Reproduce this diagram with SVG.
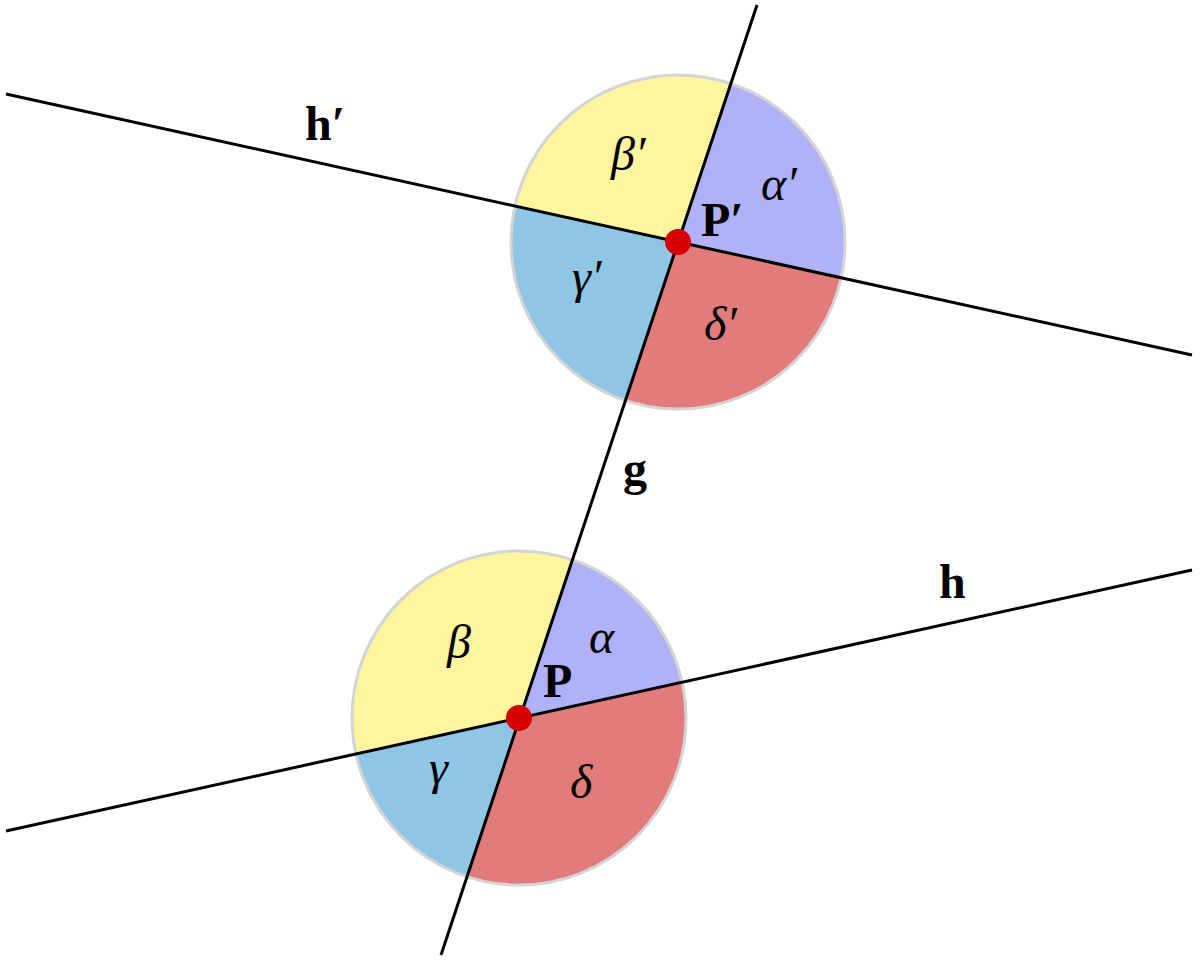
<svg xmlns="http://www.w3.org/2000/svg" width="1200" height="961" viewBox="0 0 1200 961">
<style>
.alpha{fill:#b1b1f8}
.beta{fill:#fef59e}
.gamma{fill:#8fc6e4}
.delta{fill:#e27c7c}
.rim{fill:none;stroke:#d4d4d4;stroke-width:3}
.ln{stroke:#000;stroke-width:3;fill:none}
.dot{fill:#d60000}
.bold{font-family:"Liberation Serif","DejaVu Serif",serif;font-weight:bold;font-size:48px;fill:#000}
.gr{font-family:"Liberation Serif","DejaVu Serif",serif;font-style:italic;font-size:48px;fill:#000}
</style>
<rect width="1200" height="961" fill="#fff"/>
<g id="angles-top">
<path class="alpha" d="M678,242 L730.7,83.5 A167,167 0 0 1 841.1,277.9 Z"/>
<path class="delta" d="M678,242 L841.1,277.9 A167,167 0 0 1 625.3,400.5 Z"/>
<path class="gamma" d="M678,242 L625.3,400.5 A167,167 0 0 1 514.9,206.1 Z"/>
<path class="beta" d="M678,242 L514.9,206.1 A167,167 0 0 1 730.7,83.5 Z"/>
<circle class="rim" cx="678" cy="242" r="167"/>
</g>
<g id="angles-bottom">
<path class="alpha" d="M519,718 L571.7,559.5 A167,167 0 0 1 682.1,682.1 Z"/>
<path class="delta" d="M519,718 L682.1,682.1 A167,167 0 0 1 466.3,876.5 Z"/>
<path class="gamma" d="M519,718 L466.3,876.5 A167,167 0 0 1 355.9,753.9 Z"/>
<path class="beta" d="M519,718 L355.9,753.9 A167,167 0 0 1 571.7,559.5 Z"/>
<circle class="rim" cx="519" cy="718" r="167"/>
</g>
<g id="connectors">
<line id="g" class="ln" x1="757" y1="5" x2="441" y2="955"/>
<line id="h-prime" class="ln" x1="6" y1="94" x2="1192" y2="355"/>
<line id="h" class="ln" x1="6" y1="831" x2="1192" y2="570"/>
</g>
<g id="node-P-prime">
<circle class="dot" cx="678" cy="242" r="13"/>
<text class="bold" x="701" y="236">P′</text>
</g>
<g id="node-P">
<circle class="dot" cx="519" cy="718" r="13"/>
<text class="bold" x="543" y="697">P</text>
</g>
<g id="labels">
<text class="bold" x="305" y="140">h′</text>
<text class="bold" x="623" y="485">g</text>
<text class="bold" x="939" y="598">h</text>
<text class="gr" x="611" y="170">β′</text>
<text class="gr" x="761" y="200">α′</text>
<text class="gr" x="572" y="293">γ′</text>
<text class="gr" x="704" y="340">δ′</text>
<text class="gr" x="447" y="658">β</text>
<text class="gr" x="589" y="653">α</text>
<text class="gr" x="429" y="784">γ</text>
<text class="gr" x="570" y="798">δ</text>
</g>
</svg>
